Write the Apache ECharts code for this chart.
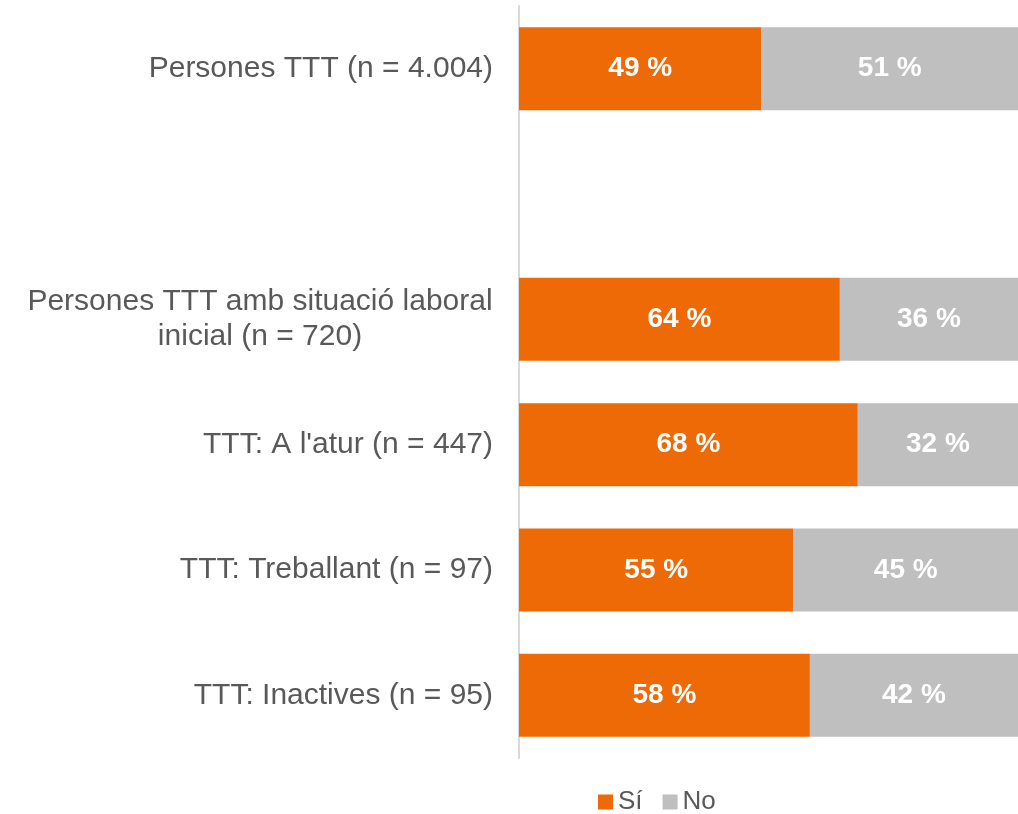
<!DOCTYPE html>
<html>
<head>
<meta charset="utf-8">
<script src="https://cdn.jsdelivr.net/npm/echarts@6/dist/echarts.min.js"></script>
<style>
  html, body { margin: 0; padding: 0; background: #fff; }
  #chart { width: 1018px; height: 814px; }
</style>
</head>
<body>
<div id="chart"></div>
<script>
  // categories (the empty one is the gap between the first bar and the rest)
  var categories = [
    'Persones TTT (n = 4.004)',
    '',
    'Persones TTT amb situació laboral\ninicial (n = 720)',
    "TTT: A l'atur (n = 447)",
    'TTT: Treballant (n = 97)',
    'TTT: Inactives (n = 95)'
  ];
  var valuesSi = [48.6, null, 64.3, 67.9, 55.0, 58.3];
  var valuesNo = [51.4, null, 35.7, 32.1, 45.0, 41.7];

  var FONT = 'Liberation Sans, Arial, sans-serif';
  var AXIS_FONT_SIZE = 30;

  // width of a text line, so wrapped labels can be centred on their longest line
  function textWidth(s) {
    var ctx = document.createElement('canvas').getContext('2d');
    ctx.font = AXIS_FONT_SIZE + 'px ' + FONT;
    return Math.ceil(ctx.measureText(s).width);
  }

  var chart = echarts.init(document.getElementById('chart'));

  var barLabel = {
    show: true,
    position: 'inside',
    color: '#ffffff',
    fontFamily: FONT,
    fontWeight: 'bold',
    fontSize: 28,
    formatter: function (p) { return Math.round(p.value) + ' %'; }
  };

  var option = {
    animation: false,
    grid: { left: 519, right: -4, top: 6, bottom: 56 },
    legend: {
      top: 784,
      left: 593,
      itemWidth: 15,
      itemHeight: 15,
      itemGap: 20,
      icon: 'rect',
      textStyle: { color: '#595959', fontSize: 26, fontFamily: FONT },
      data: ['Sí', 'No']
    },
    xAxis: {
      type: 'value',
      min: 0,
      max: 100,
      show: false
    },
    yAxis: {
      type: 'category',
      inverse: true,
      data: categories,
      axisLine: { show: true, lineStyle: { color: '#D9D9D9', width: 2 } },
      axisTick: { show: false },
      axisLabel: {
        margin: 26,
        color: '#595959',
        fontSize: AXIS_FONT_SIZE,
        lineHeight: 35,
        fontFamily: FONT,
        formatter: function (v) {
          if (v.indexOf('\n') < 0) return v;
          return v.split('\n').map(function (l) { return '{c|' + l + '}'; }).join('\n');
        },
        rich: {
          c: {
            width: textWidth('Persones TTT amb situació laboral'),
            align: 'center',
            fontSize: AXIS_FONT_SIZE,
            lineHeight: 35,
            fontFamily: FONT,
            color: '#595959'
          }
        }
      }
    },
    series: [
      {
        name: 'Sí',
        type: 'bar',
        stack: 'total',
        barWidth: 83,
        itemStyle: { color: '#ED6A07' },
        label: barLabel,
        data: valuesSi
      },
      {
        name: 'No',
        type: 'bar',
        stack: 'total',
        barWidth: 83,
        itemStyle: { color: '#BFBFBF' },
        label: barLabel,
        data: valuesNo
      }
    ]
  };
  chart.setOption(option);
</script>
</body>
</html>
